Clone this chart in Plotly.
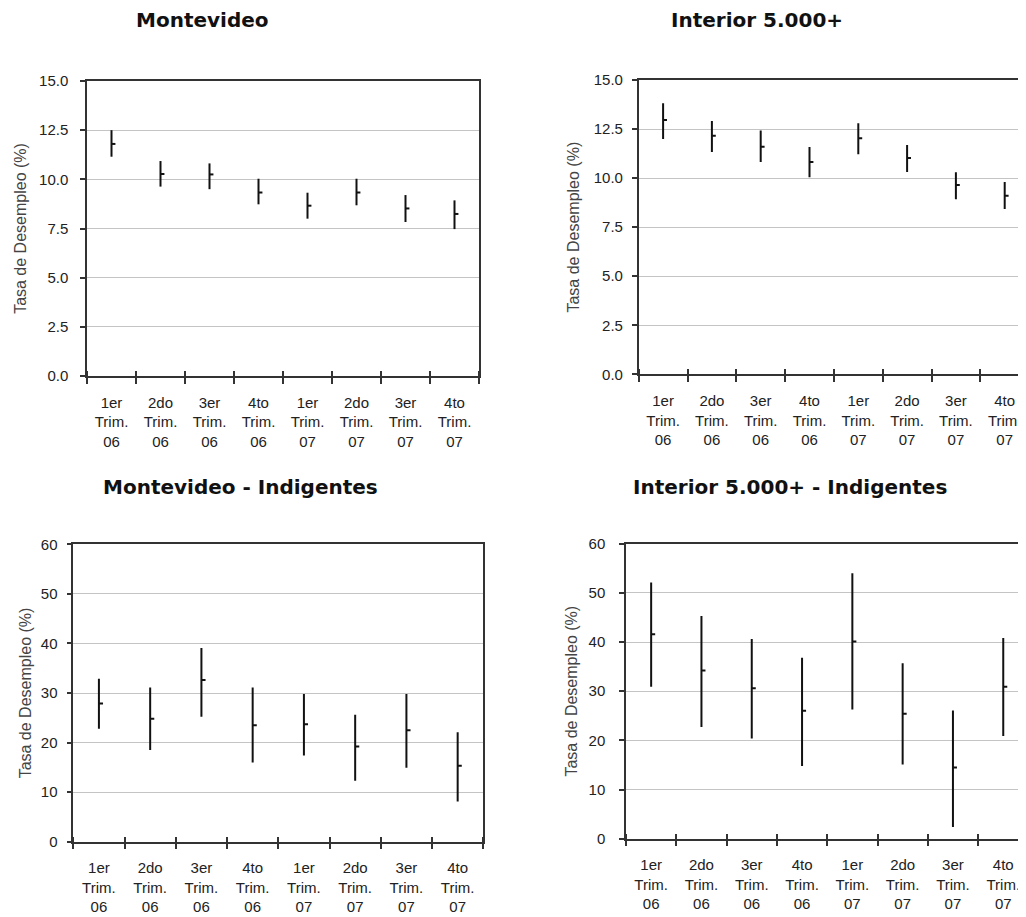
import plotly.graph_objects as go

# page is rendered with an 8px body margin; figure coordinates are page coordinates minus OFF
OFF = 8
W, H = 1026 - OFF, 917 - OFF

categories = ["1er<br>Trim.<br>06", "2do<br>Trim.<br>06", "3er<br>Trim.<br>06", "4to<br>Trim.<br>06",
              "1er<br>Trim.<br>07", "2do<br>Trim.<br>07", "3er<br>Trim.<br>07", "4to<br>Trim.<br>07"]

# Montevideo
mvd_mean = [11.80, 10.27, 10.25, 9.33, 8.66, 9.33, 8.52, 8.24]
mvd_low = [11.15, 9.63, 9.50, 8.73, 8.00, 8.68, 7.83, 7.47]
mvd_high = [12.50, 10.93, 10.81, 10.03, 9.32, 10.03, 9.20, 8.93]

# Interior 5.000+
int_mean = [12.96, 12.16, 11.60, 10.82, 12.03, 11.02, 9.65, 9.10]
int_low = [11.99, 11.33, 10.82, 10.04, 11.21, 10.31, 8.92, 8.43]
int_high = [13.81, 12.91, 12.42, 11.58, 12.79, 11.69, 10.30, 9.80]

# Montevideo - Indigentes
mvdi_mean = [27.9, 24.8, 32.6, 23.5, 23.7, 19.2, 22.5, 15.3]
mvdi_low = [22.8, 18.5, 25.2, 16.0, 17.4, 12.3, 14.9, 8.1]
mvdi_high = [32.9, 31.1, 39.1, 31.1, 29.8, 25.6, 29.8, 22.1]

# Interior 5.000+ - Indigentes
inti_mean = [41.6, 34.2, 30.6, 26.0, 40.1, 25.4, 14.5, 30.9]
inti_low = [30.9, 22.7, 20.4, 14.8, 26.3, 15.1, 2.4, 20.9]
inti_high = [52.1, 45.3, 40.6, 36.8, 54.0, 35.7, 26.1, 40.8]

titles = ["Montevideo", "Interior 5.000+", "Montevideo - Indigentes", "Interior 5.000+ - Indigentes"]
y_title = "Tasa de Desempleo (%)"

FAM = "Liberation Sans Narrow, Arial Narrow, Liberation Sans, Arial"
YTICKFONT = dict(family=FAM, size=15, color="#222")
XTICKFONT = dict(family=FAM, size=15, color="#222")
TITLEFONT = dict(family="DejaVu Sans, Verdana, sans-serif", size=20, color="#111", weight="bold")
AXCOL = "#333"
GRID = "#c4c4c4"

# boxes in page pixels: left, right, top, bottom
panels = [
    dict(box=(87, 479, 81, 376), xend=7.5, ymax=15, dtick=2.5, fmt=".1f", mirror=True,
         lab_sd=9, tit_sd=8, data=(mvd_mean, mvd_low, mvd_high), title_xy=(202, 20)),
    dict(box=(638.7, 1026, 80, 374.3), xend=-0.5 + (1026 - 638.7) / 48.8, ymax=15, dtick=2.5, fmt=".1f", mirror=False,
         lab_sd=6, tit_sd=10, data=(int_mean, int_low, int_high), title_xy=(757, 20)),
    dict(box=(73.3, 483.3, 544.3, 841.7), xend=7.5, ymax=60, dtick=10, fmt="d", mirror=True,
         lab_sd=6, tit_sd=5, data=(mvdi_mean, mvdi_low, mvdi_high), title_xy=(240, 487)),
    dict(box=(626, 1026, 543.7, 838.7), xend=-0.5 + (1026 - 626) / 50.3, ymax=60, dtick=10, fmt="d", mirror=False,
         lab_sd=11, tit_sd=7, data=(inti_mean, inti_low, inti_high), title_xy=(790, 487)),
]

fig = go.Figure()
xpos = list(range(len(categories)))
layout = {}
annotations = []
n = len(panels)
for i, p in enumerate(panels, start=1):
    mean, low, high = p["data"]
    xa = "x" if i == 1 else f"x{i}"
    ya = "y" if i == 1 else f"y{i}"
    fig.add_trace(go.Scatter(
        x=xpos, y=mean, xaxis=xa, yaxis=ya, mode="markers",
        marker=dict(size=1, color="rgba(0,0,0,0)"),
        error_y=dict(type="data", symmetric=False,
                     array=[h - m for h, m in zip(high, mean)],
                     arrayminus=[m - l for m, l in zip(mean, low)],
                     width=0, thickness=2, color="#111"),
        error_x=dict(type="constant", symmetric=False, value=0.08, valueminus=0,
                     width=0, thickness=2, color="#111"),
        showlegend=False, hoverinfo="skip"))
    l, r, t, b = [v - OFF for v in p["box"]]
    r = min(r, W)
    xkey = "xaxis" if i == 1 else f"xaxis{i}"
    ykey = "yaxis" if i == 1 else f"yaxis{i}"
    layout[xkey] = dict(
        domain=[l / W, r / W], anchor=ya, range=[-0.5, p["xend"]], automargin=False,
        tickmode="array", tickvals=xpos, ticktext=categories,
        ticks="outside", ticklen=0, ticklabelstandoff=12,
        minor=dict(tickmode="linear", tick0=0.5, dtick=1, ticks="outside", ticklen=6,
                   tickwidth=1.5, tickcolor=AXCOL, showgrid=False),
        showline=True, linecolor=AXCOL, linewidth=1.5, mirror=True,
        showgrid=False, zeroline=False, tickfont=XTICKFONT, tickangle=0)
    layout[ykey] = dict(
        domain=[1 - b / H, 1 - t / H], anchor=xa, range=[0, p["ymax"]], automargin=False,
        dtick=p["dtick"], tick0=0, tickformat=p["fmt"],
        ticks="outside", ticklen=5, tickwidth=1.5, tickcolor=AXCOL, ticklabelstandoff=p["lab_sd"],
        showline=True, linecolor=AXCOL, linewidth=1.5, mirror=p["mirror"],
        showgrid=True, gridcolor=GRID, gridwidth=1, zeroline=False,
        tickfont=YTICKFONT,
        title=dict(text=y_title, font=dict(family=FAM, size=16, color="#444"), standoff=p["tit_sd"]))
    # overlay axis providing the inner half of the crossing category-boundary ticks
    k = i + n
    fig.add_trace(go.Scatter(x=[], y=[], xaxis=f"x{k}", yaxis=ya, showlegend=False, hoverinfo="skip"))
    layout[f"xaxis{k}"] = dict(
        overlaying=xa, anchor=ya, range=[-0.5, p["xend"]], automargin=False,
        showticklabels=False, ticks="", showline=False, showgrid=False, zeroline=False,
        minor=dict(tickmode="linear", tick0=0.5, dtick=1, ticks="inside", ticklen=5,
                   tickwidth=1.5, tickcolor=AXCOL, showgrid=False))
    tx, ty = p["title_xy"]
    annotations.append(dict(text=titles[i - 1], x=(tx - OFF) / W, y=1 - (ty - OFF) / H,
                            xref="paper", yref="paper",
                            xanchor="center", yanchor="middle", showarrow=False, font=TITLEFONT))

fig.update_layout(width=W, height=H, margin=dict(l=0, r=0, t=0, b=0, autoexpand=False),
                  paper_bgcolor="white", plot_bgcolor="white",
                  annotations=annotations, **layout)
fig.write_html("out.html")
